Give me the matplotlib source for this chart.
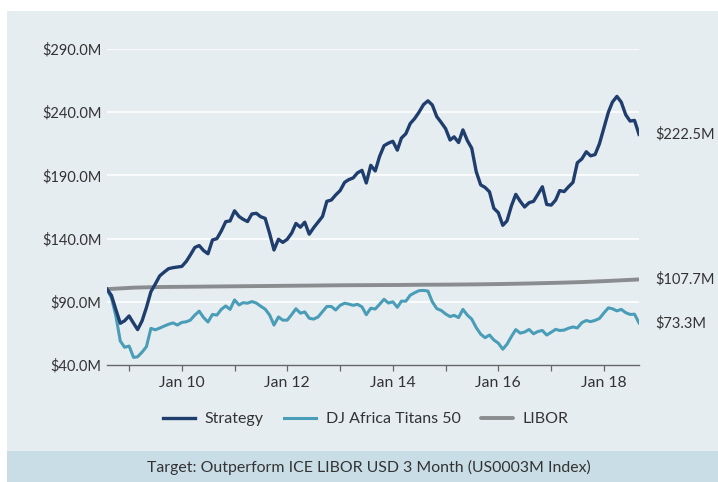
import numpy as np
import pandas as pd
import matplotlib
matplotlib.use('Agg')
import matplotlib.pyplot as plt
import matplotlib.dates as mdates
from matplotlib.patches import Rectangle

plt.rcParams['font.family'] = ['Lato', 'DejaVu Sans']

# monthly values, Aug 2008 .. Sep 2018 ($M)
months = pd.date_range('2008-08-01', '2018-09-01', freq='MS')

strategy = [
    100.0, 95.0, 84.0, 73.0, 75.0, 78.8, 73.0, 68.0, 75.0, 85.5,
    98.0, 104.0, 110.5, 113.5, 116.2, 117.0, 117.5, 118.0, 122.0, 127.0,
    133.0, 134.5, 130.5, 128.0, 138.9, 140.0, 146.0, 153.4, 154.0, 162.0,
    157.5, 155.3, 153.5, 159.5, 160.0, 157.3, 156.0, 144.0, 131.0, 139.5,
    137.0, 139.5, 144.5, 152.0, 149.0, 153.0, 143.5, 148.5, 153.0, 157.5,
    169.5, 170.5, 174.5, 178.0, 184.5, 186.6, 188.0, 192.0, 194.0, 184.0,
    198.0, 193.5, 205.0, 213.5, 215.5, 217.0, 210.0, 219.5, 223.0, 231.0,
    235.0, 240.0, 246.0, 249.0, 245.7, 236.5, 232.0, 227.0, 218.0, 220.5,
    216.0, 226.0, 217.5, 211.5, 193.0, 182.5, 180.5, 177.0, 164.0, 160.5,
    150.5, 154.0, 166.0, 175.0, 169.5, 165.0, 168.4, 169.5, 175.0, 181.0,
    167.0, 166.5, 170.5, 178.0, 177.2, 181.0, 184.5, 200.0, 203.0, 208.7,
    205.5, 206.5, 215.0, 227.5, 240.0, 248.0, 252.5, 248.0, 238.0, 233.0,
    233.5, 222.5,
]

dj_africa = [
    100.0, 93.0, 79.0, 59.0, 54.0, 55.0, 46.0, 46.5, 50.2, 54.5,
    69.0, 67.8, 69.2, 70.8, 72.2, 73.3, 71.6, 73.7, 74.2, 75.5,
    79.5, 82.6, 77.5, 74.0, 80.0, 79.5, 84.0, 86.7, 84.0, 91.5,
    87.5, 89.3, 88.9, 90.2, 89.0, 86.5, 84.2, 79.5, 71.6, 78.0,
    75.5, 75.5, 80.0, 84.5, 81.0, 82.0, 77.0, 76.3, 78.0, 82.2,
    86.3, 86.3, 83.5, 87.2, 88.9, 88.2, 87.2, 88.0, 86.0, 79.8,
    84.9, 84.3, 88.0, 92.0, 89.0, 90.0, 85.6, 90.5, 90.5, 95.2,
    97.2, 98.8, 99.0, 98.5, 90.0, 84.6, 83.2, 80.4, 78.3, 79.3,
    77.5, 84.0, 79.4, 76.3, 69.6, 64.4, 61.6, 63.7, 59.8, 57.3,
    52.5, 56.4, 62.6, 68.0, 65.2, 66.1, 68.1, 64.7, 66.5, 67.3,
    63.7, 65.9, 68.2, 67.3, 67.6, 69.1, 70.1, 69.3, 73.5, 75.2,
    74.3, 75.3, 76.8, 81.2, 85.2, 84.5, 82.8, 84.0, 81.4, 80.0,
    80.2, 73.3,
]

# LIBOR is smooth, read every six months
libor_dates = pd.to_datetime([
    '2008-08-01', '2009-02-01', '2009-08-01', '2010-02-01', '2010-08-01',
    '2011-02-01', '2011-08-01', '2012-02-01', '2012-08-01', '2013-02-01',
    '2013-08-01', '2014-02-01', '2014-08-01', '2015-02-01', '2015-08-01',
    '2016-02-01', '2016-08-01', '2017-02-01', '2017-08-01', '2018-02-01',
    '2018-09-01',
])
libor = [
    100.0, 101.2, 101.7, 101.9, 102.1, 102.3, 102.5, 102.7, 102.9, 103.1,
    103.2, 103.3, 103.5, 103.6, 103.8, 104.1, 104.5, 105.0, 105.6, 106.5,
    107.7,
]

y_ticks = [40, 90, 140, 190, 240, 290]

c_strategy = '#1f3e6e'
c_dj = '#4a9db7'
c_libor = '#8a8d90'
c_text = '#333333'

fig = plt.figure(figsize=(7.18, 4.82), dpi=100)
fig.patch.set_facecolor('white')

# panel and bottom band
fig.patches.append(Rectangle((7 / 718, 31 / 482), 1 - 7 / 718, 440 / 482,
                             transform=fig.transFigure, facecolor='#e6edf1',
                             edgecolor='none', zorder=-2))
fig.patches.append(Rectangle((7 / 718, 0), 1 - 7 / 718, 31 / 482,
                             transform=fig.transFigure, facecolor='#c9dde6',
                             edgecolor='none', zorder=-2))

ax = fig.add_axes([107 / 718, 1 - 365 / 482, 532 / 718, 316 / 482])
ax.set_facecolor('none')

ax.plot(libor_dates, libor, color=c_libor, lw=2.8, solid_capstyle='round',
        label='LIBOR', zorder=3)
ax.plot(months, dj_africa, color=c_dj, lw=2.2, solid_joinstyle='round',
        label='DJ Africa Titans 50', zorder=4)
ax.plot(months, strategy, color=c_strategy, lw=2.4, solid_joinstyle='round',
        label='Strategy', zorder=5)

ax.set_xlim(months[0], months[-1])
ax.set_ylim(40, 290)
ax.set_yticks(y_ticks)
ax.set_yticklabels([f'${v:.1f}M' for v in y_ticks])
for v in y_ticks[1:]:
    ax.axhline(v, color='white', lw=1.2, zorder=1)

ax.xaxis.set_major_locator(mdates.YearLocator(2, month=1, day=1))
ax.xaxis.set_minor_locator(mdates.YearLocator(1, month=1, day=1))
ax.xaxis.set_major_formatter(mdates.DateFormatter('Jan %y'))

for s in ['top', 'right', 'left']:
    ax.spines[s].set_visible(False)
ax.spines['bottom'].set_color('#666666')
ax.spines['bottom'].set_linewidth(1.0)
ax.tick_params(axis='y', length=0, pad=4, labelsize=10.5, labelcolor=c_text)
ax.tick_params(axis='x', which='both', length=4, width=0.9, color='#666666',
               pad=4, labelsize=11.3, labelcolor=c_text)

# end-value labels
for vals in [strategy, libor, dj_africa]:
    ax.annotate(f'${vals[-1]:.1f}M', xy=(1, vals[-1]), xycoords=('axes fraction', 'data'),
                xytext=(12, 0), textcoords='offset points', va='center', ha='left',
                fontsize=10.5, color=c_text)

handles, labels = ax.get_legend_handles_labels()
order = [2, 1, 0]
leg = fig.legend([handles[i] for i in order], [labels[i] for i in order],
                 loc='center', bbox_to_anchor=(366 / 718, 1 - 419 / 482), ncol=3,
                 frameon=False, fontsize=11.5, handlelength=2.0, columnspacing=1.3,
                 handletextpad=0.6)
for t in leg.get_texts():
    t.set_color(c_text)

fig.text(369 / 718, 1 - 467 / 482,
         'Target: Outperform ICE LIBOR USD 3 Month (US0003M Index)',
         ha='center', va='center', fontsize=11.4, color=c_text)

fig.savefig('out.png', dpi=100)
